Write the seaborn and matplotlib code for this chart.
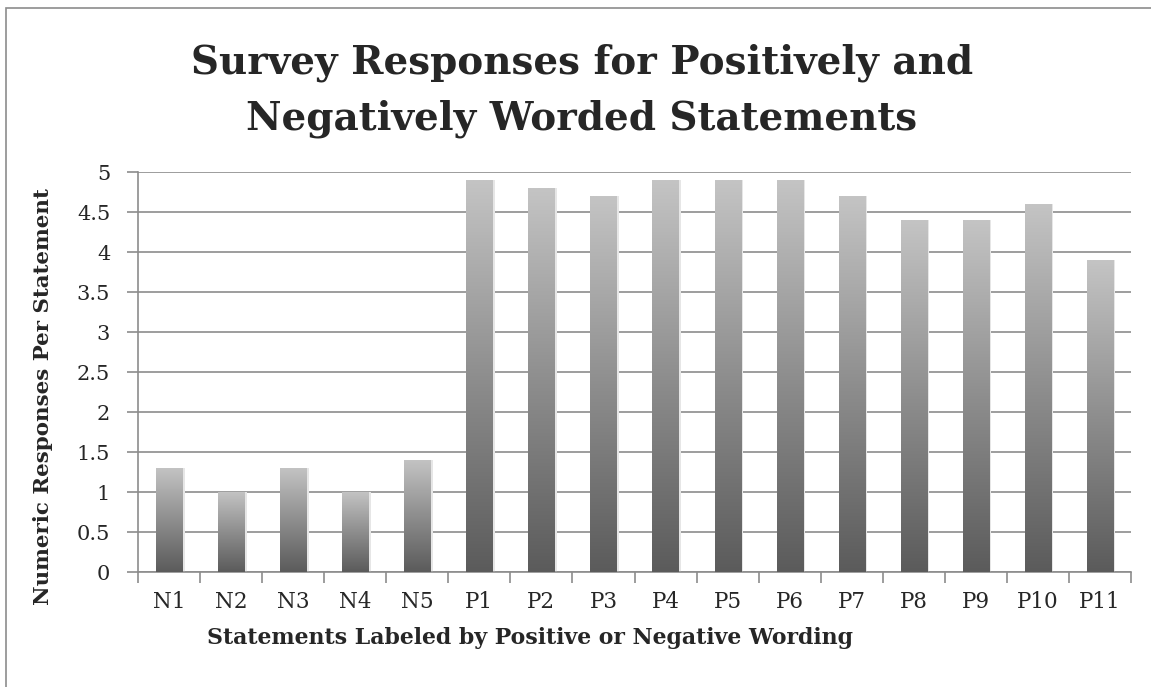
import numpy as np
import pandas as pd
import matplotlib
matplotlib.use('Agg')
import matplotlib.pyplot as plt
import seaborn as sns
from matplotlib.colors import LinearSegmentedColormap
from matplotlib.patches import Rectangle

statements = ['N1', 'N2', 'N3', 'N4', 'N5', 'P1', 'P2', 'P3', 'P4', 'P5',
              'P6', 'P7', 'P8', 'P9', 'P10', 'P11']
responses = [1.3, 1.0, 1.3, 1.0, 1.4, 4.9, 4.8, 4.7, 4.9, 4.9,
             4.9, 4.7, 4.4, 4.4, 4.6, 3.9]
y_ticks = [0, 0.5, 1, 1.5, 2, 2.5, 3, 3.5, 4, 4.5, 5]
y_tick_labels = ['0', '0.5', '1', '1.5', '2', '2.5', '3', '3.5', '4', '4.5', '5']

df = pd.DataFrame({'statement': statements, 'response': responses})

sns.set_style('white')
plt.rcParams['font.family'] = ['DejaVu Serif']

W, H = 1151, 687
fig = plt.figure(figsize=(W / 100, H / 100), dpi=100)
ax = fig.add_axes([138 / W, 1 - 572 / H, (1131 - 138) / W, 400 / H])

sns.barplot(data=df, x='statement', y='response', ax=ax, width=0.42,
            color='#8a8a8a', saturation=1, zorder=3)

# gradient fill: dark at bottom, light at top
cmap = LinearSegmentedColormap.from_list('bar', ['#5b5b5b', '#8e8e8e', '#c4c4c4'])
grad = np.linspace(0, 1, 256).reshape(-1, 1)
for p in ax.patches:
    x0, w, h = p.get_x(), p.get_width(), p.get_height()
    # soft shadow on the right
    ax.add_patch(Rectangle((x0 + w, 0), 0.04, h, color='#e6e6e6', zorder=2, lw=0))
    im = ax.imshow(grad, cmap=cmap, aspect='auto', origin='lower',
                   extent=(x0, x0 + w, 0, h), zorder=4)
    im.set_clip_path(p)
    p.set_facecolor('none')
    p.set_edgecolor('none')

ax.set_xlim(-0.5, len(statements) - 0.5)
ax.set_ylim(0, 5)
ax.set_yticks(y_ticks)
ax.set_yticklabels(y_tick_labels, fontsize=15)
ax.tick_params(axis='x', which='major', labelsize=15.5, length=0, pad=14)
ax.tick_params(axis='y', left=True, length=8, width=1.2, color='#8c8c8c',
               direction='out', pad=12)
ax.yaxis.grid(True, color='#8c8c8c', linewidth=1.2, zorder=1)
ax.set_axisbelow(True)
for s in ['top', 'right']:
    ax.spines[s].set_visible(False)
for s in ['left', 'bottom']:
    ax.spines[s].set_color('#8c8c8c')
    ax.spines[s].set_linewidth(1.2)

# ticks between categories on x axis
ax.set_xticks(np.arange(-0.5, len(statements), 1), minor=True)
ax.tick_params(axis='x', which='minor', bottom=True, length=8, width=1.2,
               color='#8c8c8c', direction='out')

ax.set_xlabel('')
ax.set_ylabel('')

fig.text(530 / W, 1 - 644 / H, 'Statements Labeled by Positive or Negative Wording',
         ha='center', va='baseline', fontsize=15.8, fontweight='bold')
fig.text(43 / W, 1 - 397 / H, 'Numeric Responses Per Statement',
         ha='center', va='center', rotation=90, fontsize=15.4, fontweight='bold')
fig.text(582 / W, 1 - 73 / H, 'Survey Responses for Positively and',
         ha='center', va='baseline', fontsize=28, fontweight='bold')
fig.text(582 / W, 1 - 129 / H, 'Negatively Worded Statements',
         ha='center', va='baseline', fontsize=28, fontweight='bold')

# chart frame
fig.add_artist(Rectangle((6 / W, -0.1), 1.2, (H - 8) / H + 0.1,
                         transform=fig.transFigure, fill=False,
                         edgecolor='#8c8c8c', linewidth=1.2))

fig.savefig('out.png', dpi=100)
